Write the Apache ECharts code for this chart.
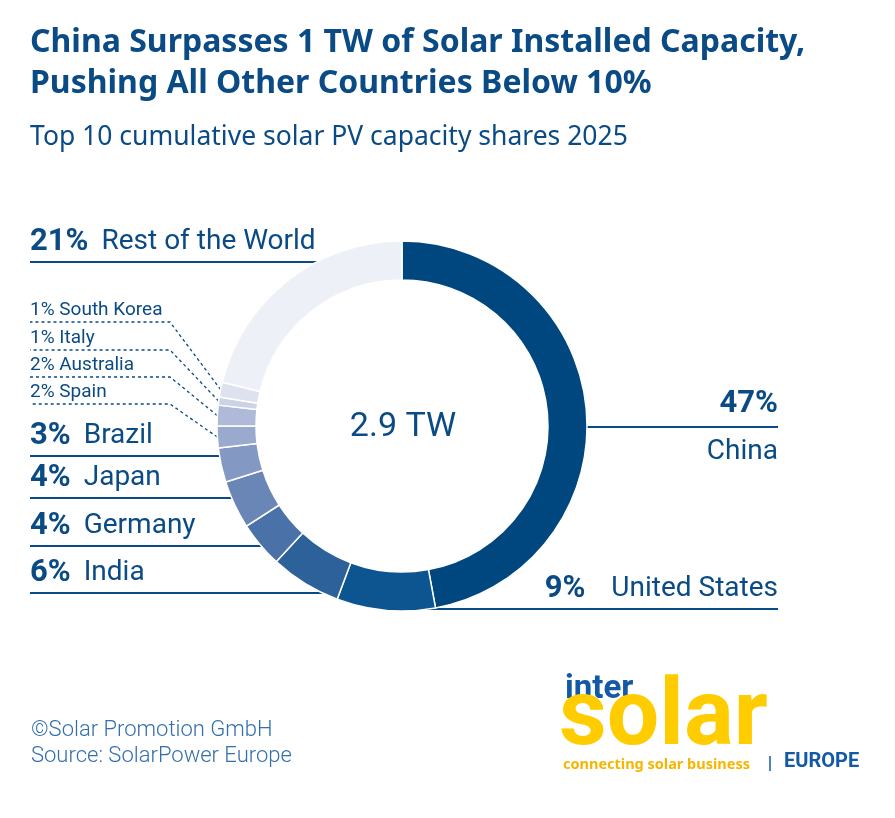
<!DOCTYPE html>
<html>
<head>
<meta charset="utf-8">
<title>Top 10 cumulative solar PV capacity shares 2025</title>
<script src="https://cdn.jsdelivr.net/npm/echarts@6/dist/echarts.min.js"></script>
<style>
html, body { margin: 0; padding: 0; background: #fff; }
#main { width: 895px; height: 818px; }
</style>
</head>
<body>
<div id="main"></div>
<script>
// data (clockwise from 12 o'clock)
var countries = ['China', 'United States', 'India', 'Germany', 'Japan', 'Brazil',
                 'Spain', 'Australia', 'Italy', 'South Korea', 'Rest of the World'];
var shares = [47.1, 8.6, 6.2, 4.0, 4.2, 3.0, 1.9, 1.8, 0.7, 1.3, 21.2];
var totalLabel = '2.9 TW';

// styling
var sliceColors = ['#00467f', '#0c5590', '#2c6199', '#4a72a8', '#6a86b6', '#8398c3',
                   '#9aaace', '#aebad8', '#ccd3e6', '#dee2ee', '#eef0f7'];
var underlineY = [427, 609, 593, 546, 498, 456, 404, 377, 350, 322, 262];
var dashed = [false, false, false, false, false, false, true, true, true, true, false];

var CX = 402, CY = 426, R_IN = 146, R_OUT = 185;
var LEFT_X = 30, RIGHT_X = 778, BEND_X = 170;
var DARK = '#0a4a85';
var FONT = 'Roboto';
var HEAD_FONT = '"Noto Sans"';

var total = shares.reduce(function (a, b) { return a + b; }, 0);
var midAngle = [];
var acc = 0;
shares.forEach(function (v) {
    midAngle.push((acc + v / 2) / total * 2 * Math.PI);
    acc += v;
});

function ringX(y, side) {
    var dy = y - CY;
    return CX + side * Math.sqrt(R_OUT * R_OUT - dy * dy);
}

var chart = echarts.init(document.getElementById('main'));

var pieData = countries.map(function (name, i) {
    return {
        name: name,
        value: shares[i],
        itemStyle: { color: sliceColors[i] },
        labelLine: {
            lineStyle: dashed[i]
                ? { type: [3, 3], width: 1.3, color: DARK }
                : { type: 'solid', width: 2, color: DARK }
        }
    };
});

var option = {
    animation: false,
    backgroundColor: '#fff',
    graphic: [
        { type: 'text', x: 30, y: 43,
          style: { text: 'China Surpasses 1 TW of Solar Installed Capacity,', font: 'bold 32px ' + HEAD_FONT, fill: DARK, verticalAlign: 'middle' } },
        { type: 'text', x: 30, y: 84,
          style: { text: 'Pushing All Other Countries Below 10%', font: 'bold 32px ' + HEAD_FONT, fill: DARK, verticalAlign: 'middle' } },
        { type: 'text', x: 30, y: 137,
          style: { text: 'Top 10 cumulative solar PV capacity shares 2025', font: '26.5px ' + HEAD_FONT, fill: DARK, verticalAlign: 'middle' } },
        { type: 'text', x: CX + 1, y: 427,
          style: { text: totalLabel, font: '34px ' + FONT, fill: DARK, align: 'center', verticalAlign: 'middle' } },
        { type: 'text', x: 31, y: 730,
          style: { text: '©Solar Promotion GmbH', font: '300 22px ' + FONT, fill: '#336fad', verticalAlign: 'middle' } },
        { type: 'text', x: 31, y: 756,
          style: { text: 'Source: SolarPower Europe', font: '300 22px ' + FONT, fill: '#336fad', verticalAlign: 'middle' } },
        // logo
        { type: 'text', x: 565, y: 690,
          style: { text: 'inter', font: 'bold 33px ' + FONT, fill: '#1259a6', verticalAlign: 'middle' } },
        { type: 'text', x: 559, y: 721,
          style: { text: 'solar', font: 'bold 93px ' + FONT, fill: '#ffcc00', verticalAlign: 'middle' } },
        { type: 'text', x: 563, y: 765,
          style: { text: 'connecting solar business', font: 'bold 14.5px ' + HEAD_FONT, fill: '#f7b500', verticalAlign: 'middle' } },
        { type: 'line', shape: { x1: 770, y1: 756, x2: 770, y2: 771 },
          style: { stroke: '#1259a6', lineWidth: 1.5 } },
        { type: 'text', x: 784, y: 762,
          style: { text: 'EUROPE', font: 'bold 20px ' + FONT, fill: '#1259a6', verticalAlign: 'middle' } }
    ],
    series: [{
        type: 'pie',
        center: [CX, CY],
        radius: [R_IN, R_OUT],
        startAngle: 90,
        clockwise: true,
        avoidLabelOverlap: false,
        silent: true,
        itemStyle: { borderColor: '#fff', borderWidth: 1.5 },
        emphasis: { disabled: true },
        label: {
            show: true,
            position: 'outside',
            fontFamily: FONT,
            color: DARK,
            formatter: function (p) {
                var pct = Math.round(p.value) + '%';
                var i = p.dataIndex;
                if (i === 0) return '{pr|' + pct + '}\n{nr|' + p.name + '}';
                if (i === 1) return '{p|' + pct + '}{g2| }{n|' + p.name + '}';
                if (dashed[i]) return '{s|' + pct + ' ' + p.name + '}';
                return '{p|' + pct + '}{g| }{n|' + p.name + '}';
            },
            rich: {
                p: { fontFamily: FONT, fontWeight: 'bold', fontSize: 31, color: DARK, lineHeight: 32 },
                n: { fontFamily: FONT, fontSize: 28, color: DARK, lineHeight: 32 },
                g: { width: 13, fontSize: 28, lineHeight: 32 },
                g2: { width: 26, fontSize: 28, lineHeight: 32 },
                pr: { fontFamily: FONT, fontWeight: 'bold', fontSize: 31, color: DARK, lineHeight: 48, align: 'right' },
                nr: { fontFamily: FONT, fontSize: 28, color: DARK, lineHeight: 48, align: 'right' },
                s: { fontFamily: FONT, fontSize: 19, color: DARK, lineHeight: 22 }
            }
        },
        labelLine: { show: true, smooth: false },
        labelLayout: function (params) {
            var i = params.dataIndex;
            var y = underlineY[i];
            if (i === 0) {
                var xr = ringX(y, 1) - 2;
                return { x: RIGHT_X, y: y + 1, align: 'right', verticalAlign: 'middle',
                         labelLinePoints: [[xr, y], [xr, y], [RIGHT_X, y]] };
            }
            if (i === 1) {
                var xu = ringX(y, 1) - 2;
                return { x: RIGHT_X, y: y - 20, align: 'right', verticalAlign: 'middle',
                         labelLinePoints: [[xu, y], [xu, y], [RIGHT_X, y]] };
            }
            if (dashed[i]) {
                var a = midAngle[i];
                var px = CX + R_OUT * Math.sin(a);
                var py = CY - R_OUT * Math.cos(a);
                return { x: LEFT_X, y: y - 12, align: 'left', verticalAlign: 'middle',
                         labelLinePoints: [[px, py], [BEND_X, y], [LEFT_X, y]] };
            }
            var xl = ringX(y, -1) + 2;
            return { x: LEFT_X, y: y - 20, align: 'left', verticalAlign: 'middle',
                     labelLinePoints: [[xl, y], [xl, y], [LEFT_X, y]] };
        },
        data: pieData
    }]
};

chart.setOption(option);
</script>
</body>
</html>
